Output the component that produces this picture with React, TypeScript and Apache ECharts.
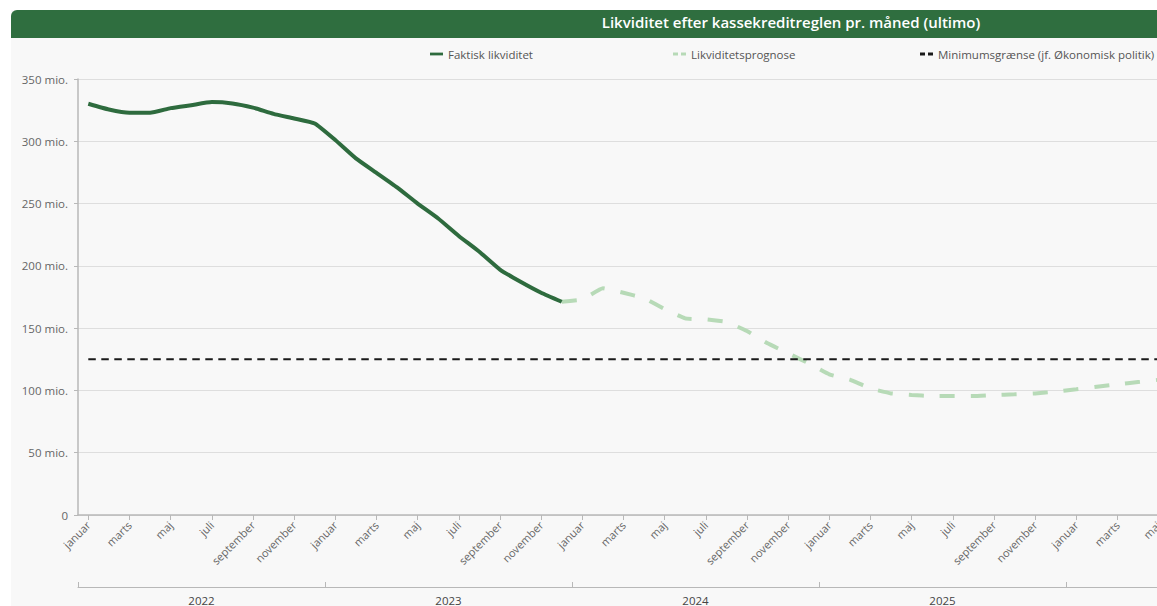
import React, { useEffect, useRef } from "react";
import * as echarts from "echarts";

const monthNames = [
  "januar", "februar", "marts", "april", "maj", "juni",
  "juli", "august", "september", "oktober", "november", "december",
];
const years = ["2022", "2023", "2024", "2025", "2026", "2027"];

// Faktisk likviditet, jan 2022 - dec 2023 (mio. kr.)
const actualValues = [
  330.1, 325.5, 322.9, 322.9, 326.6, 329, 331.5, 330.4, 327, 322, 318.3, 314.3,
  301, 286.3, 274.7, 263, 250, 238, 224, 211.3, 197, 187.2, 178.4, 171.2,
];
// Likviditetsprognose, dec 2023 - maj 2026 (mio. kr.)
const forecastValues = [
  171.2,
  173, 182, 178.4, 174, 165.3, 157.8, 157, 155, 147.7, 137.8, 129.8, 121.7,
  112.9, 108.6, 101.6, 97.6, 96.3, 95.5, 95.5, 95.5, 96.3, 96.9, 97.6, 99,
  100.9, 103, 104.9, 106.7, 108.5,
];
const forecastStartIndex = 23;
const minimumLimit = 125;

const yTicks = { min: 0, max: 350, interval: 50 };

const seriesNames = [
  "Faktisk likviditet",
  "Likviditetsprognose",
  "Minimumsgrænse (jf. Økonomisk politik)",
];

export default function App() {
  const ref = useRef<HTMLDivElement>(null);

  useEffect(() => {
    document.body.style.margin = "0";
    document.documentElement.style.overflow = "hidden";
    if (!ref.current) return;
    const chart = echarts.init(ref.current, undefined, { renderer: "svg" });

    const categories: string[] = [];
    years.forEach((y) => monthNames.forEach((m) => categories.push(m + " " + y)));

    const actual = categories.map((_, i) => (i < actualValues.length ? actualValues[i] : null));
    const forecast = categories.map((_, i) => {
      const k = i - forecastStartIndex;
      return k >= 0 && k < forecastValues.length ? forecastValues[k] : null;
    });
    const minimum = categories.map(() => minimumLimit);

    const font = "'Open Sans', sans-serif";
    const W = 1572;

    const solidIcon = "path://M0,0h14v3h-14z";
    const dashIcon = "path://M0,0h5v3h-5z M8,0h5v3h-5z";

    const legendBase = {
      top: 33,
      itemWidth: 13,
      itemHeight: 3,
      itemGap: 5,
      textStyle: { color: "#555", fontSize: 11.5, fontFamily: font },
    };

    chart.setOption({
      animation: false,
      backgroundColor: "#f8f8f8",
      textStyle: { fontFamily: font },
      graphic: [
        {
          type: "rect",
          z: -1,
          shape: { x: 0, y: 0, width: W, height: 28, r: [6, 6, 0, 0] },
          style: { fill: "#2f6e3f" },
        },
      ],
      title: {
        text: "Likviditet efter kassekreditreglen pr. måned (ultimo)",
        left: 780,
        textAlign: "center",
        top: 4,
        padding: 0,
        textStyle: {
          color: "#ffffff",
          fontSize: 15,
          fontWeight: 600,
          fontFamily: font,
        },
      },
      legend: [
        { ...legendBase, left: 414, data: [{ name: seriesNames[0], icon: solidIcon }] },
        { ...legendBase, left: 657, data: [{ name: seriesNames[1], icon: dashIcon }] },
        { ...legendBase, left: 904, data: [{ name: seriesNames[2], icon: dashIcon }] },
      ],
      grid: { left: 67, top: 69, right: 23, bottom: 91, containLabel: false },
      xAxis: [
        {
          type: "category",
          data: categories,
          boundaryGap: true,
          axisLine: { show: true, lineStyle: { color: "#b8b8b8", width: 1.5 } },
          axisTick: {
            show: true,
            alignWithLabel: true,
            interval: 1,
            length: 5,
            lineStyle: { color: "#b8b8b8" },
          },
          axisLabel: {
            interval: 1,
            rotate: 45,
            margin: 8,
            color: "#666",
            fontSize: 11,
            fontFamily: font,
            formatter: (v: string) => v.split(" ")[0],
          },
          splitLine: { show: false },
        },
        {
          type: "category",
          data: years,
          position: "bottom",
          offset: 72,
          boundaryGap: true,
          axisLine: { show: true, lineStyle: { color: "#b8b8b8", width: 1 } },
          axisTick: {
            show: true,
            inside: true,
            length: 5,
            lineStyle: { color: "#b8b8b8" },
          },
          axisLabel: {
            margin: 7,
            color: "#444",
            fontSize: 11.5,
            fontFamily: font,
          },
          splitLine: { show: false },
        },
      ],
      yAxis: {
        type: "value",
        min: yTicks.min,
        max: yTicks.max,
        interval: yTicks.interval,
        axisLine: { show: true, lineStyle: { color: "#b8b8b8", width: 1.5 } },
        axisTick: { show: true, length: 4, lineStyle: { color: "#b8b8b8" } },
        axisLabel: {
          color: "#666",
          fontSize: 11.5,
          margin: 10,
          fontFamily: font,
          formatter: (v: number) => (v === 0 ? "0" : v + " mio."),
        },
        splitLine: { show: true, lineStyle: { color: "#dedede", width: 1 } },
      },
      series: [
        {
          name: seriesNames[0],
          type: "line",
          data: actual,
          symbol: "none",
          smooth: 0.15,
          z: 3,
          lineStyle: { color: "#2e6b3e", width: 4 },
          itemStyle: { color: "#2e6b3e" },
        },
        {
          name: seriesNames[1],
          type: "line",
          data: forecast,
          symbol: "none",
          smooth: 0.1,
          z: 2,
          lineStyle: { color: "#b7dab7", width: 4, type: [15, 16] },
          itemStyle: { color: "#b7dab7" },
        },
        {
          name: seriesNames[2],
          type: "line",
          data: minimum,
          symbol: "none",
          z: 4,
          lineStyle: { color: "#1a1a1a", width: 2, type: [7.5, 5.5] },
          itemStyle: { color: "#1a1a1a" },
        },
      ],
    });

    return () => chart.dispose();
  }, []);

  return (
    <div style={{ width: 1157, height: 606, overflow: "hidden", position: "relative", background: "#ffffff" }}>
      <div
        ref={ref}
        style={{ position: "absolute", left: 11, top: 10, width: 1572, height: 596 }}
      />
    </div>
  );
}
